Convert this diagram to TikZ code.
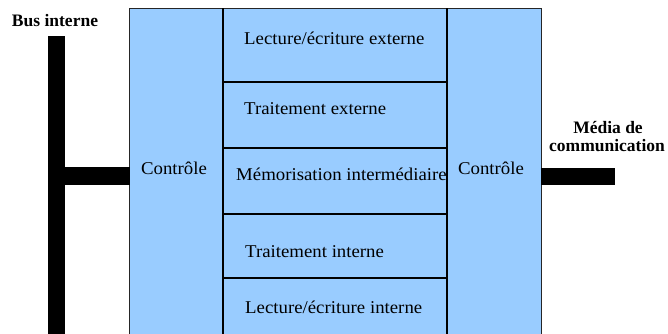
\documentclass[tikz,border=0pt]{standalone}
\usepackage{fontspec}
\setmainfont{Liberation Serif}
\newfontfamily\widefont[FakeStretch=1.045]{Liberation Serif}
\begin{document}
\begin{tikzpicture}[x=1pt,y=-1pt,
  rowline/.style={draw=black,line width=1.6pt},
  colline/.style={draw=black,line width=2.6pt},
  bar/.style={fill=black,draw=none},
  lbl/.style={inner sep=0pt,anchor=base west,font=\widefont\fontsize{18}{20}\selectfont},
  ctl/.style={inner sep=0pt,anchor=base,font=\widefont\fontsize{18}{20}\selectfont},
  head/.style={inner sep=0pt,anchor=base,font=\fontsize{17.5}{20}\selectfont\bfseries}]
\definecolor{paneblue}{RGB}{153,204,255}
\useasboundingbox (0,0) rectangle (668,333);

% outer block, open at the bottom
\path[fill=paneblue] (129,8) rectangle (541,340);
\draw[draw=black!85,line width=1pt] (129,340) -- (129,8) -- (541,8) -- (541,340);

% middle column with its five layers
\draw[colline] (223,8) -- (223,340);
\draw[colline] (447,8) -- (447,340);
\draw[rowline] (223,82) -- (447,82);
\draw[rowline] (223,148) -- (447,148);
\draw[rowline] (223,214) -- (447,214);
\draw[rowline] (223,278) -- (447,278);

% internal bus and communication medium
\fill[bar] (48,36) rectangle (65,340);
\fill[bar] (65,167) rectangle (129.5,185);
\fill[bar] (541,168) rectangle (615,185);

% labels
\node[head] (bus) at (55,26) {Bus interne};
\node[head] (media1) at (608,133) {Média de};
\node[head] (media2) at (607,151) {communication};
\node[ctl] (ctlL) at (174,174) {Contrôle};
\node[ctl] (ctlR) at (491,174) {Contrôle};
\node[lbl] (lext) at (244,44) {Lecture/écriture externe};
\node[lbl] (text) at (244,114) {Traitement externe};
\node[lbl] (mem) at (236,180) {Mémorisation intermédiaire};
\node[lbl] (tint) at (245,257) {Traitement interne};
\node[lbl] (lint) at (245,313) {Lecture/écriture interne};
\end{tikzpicture}
\end{document}
